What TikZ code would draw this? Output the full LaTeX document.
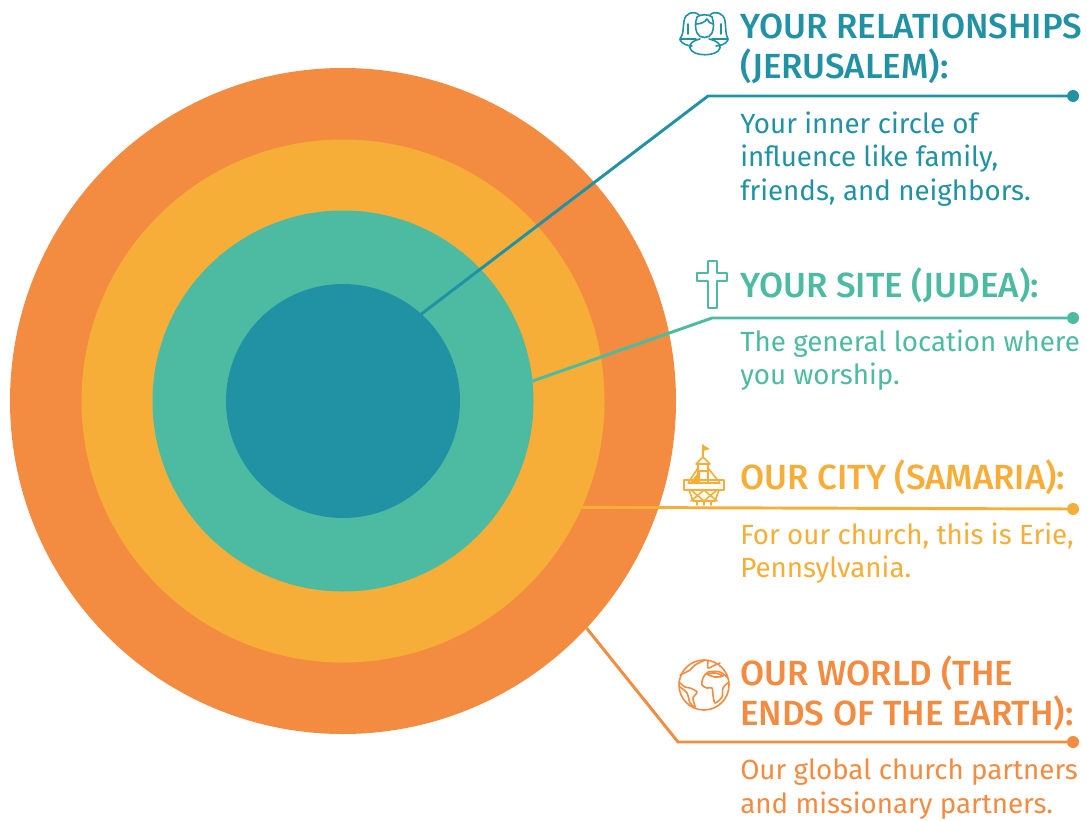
\documentclass[tikz,border=0pt]{standalone}
\usepackage{fontspec}
\setmainfont{Fira Sans}
\definecolor{kteal}{HTML}{2192A4}
\definecolor{kgreen}{HTML}{4CBBA2}
\definecolor{kyellow}{HTML}{F7AE38}
\definecolor{korange}{HTML}{F38B40}
\newfontfamily\headfont{Fira Sans Medium}
\tikzset{
  ring/.style={circle,inner sep=0pt,outer sep=0pt},
  head/.style={anchor=west,align=left,inner sep=0pt,font=\headfont\fontsize{26.2}{30}\selectfont},
  body/.style={anchor=west,align=left,inner sep=0pt,font=\fontsize{20.8}{25}\selectfont},
  pin/.style={circle,fill,inner sep=0pt,minimum size=9pt},
  lead/.style={line width=2.2pt},
  icon/.style={line width=1.2pt,line join=round,line cap=round}
}
\begin{document}
\begin{tikzpicture}[x=0.75pt,y=-0.75pt]
\useasboundingbox(0,0)rectangle(1087,820);
\foreach \kname/\kcol/\krad in {world/korange/333,city/kyellow/261.5,site/kgreen/190.5,core/kteal/117}{
  \node[ring,fill=\kcol,minimum size=2*\krad*0.75pt](\kname)at(343,401){};
}
% leaders
\node[pin,kteal](pina)at(1073,96){};
\node[pin,kgreen](pinb)at(1073,318){};
\node[pin,kyellow](pinc)at(1073,509){};
\node[pin,korange](pind)at(1073,742){};
\draw[lead,kteal](core.48.5)--(708,96)--(pina);
\draw[lead,kgreen](site.6.4)--(712,318)--(pinb);
\draw[lead,kyellow](city.336.1)--(pinc);
\draw[lead,korange](world.317.2)--(678,742)--(pind);
% headings
\node[head,kteal](heada)at(740,49){YOUR RELATIONSHIPS\\(JERUSALEM):};
\node[head,kgreen](headb)at(740,285){YOUR SITE (JUDEA):};
\node[head,kyellow](headc)at(740,477){OUR CITY (SAMARIA):};
\node[head,korange](headd)at(740,693){OUR WORLD (THE\\ENDS OF THE EARTH):};
% text
\node[body,kteal](bodya)at(740,159){Your inner circle of\\influence like family,\\friends, and neighbors.};
\node[body,kgreen](bodyb)at(740,360){The general location where\\you worship.};
\node[body,kyellow](bodyc)at(740,553){For our church, this is Erie,\\Pennsylvania.};
\node[body,korange](bodyd)at(740,789){Our global church partners\\and missionary partners.};
% people icon
\begin{scope}[icon,kteal]
\draw(680,39)..controls(684,34)and(683,26)..(684,21)..controls(685,13)and(694,10)..(699,15);
\draw(728,39)..controls(725,34)and(726,26)..(725,21)..controls(724,13)and(715,10)..(710,15);
\draw(680,39)--(696,39);\draw(712,39)--(728,39);
\draw(688,24)--(688,34);\draw(721,24)--(721,34);
\draw(697,17)..controls(700,14)and(709,14)..(712,17)..controls(714,23)and(714,28)..(712,33)..controls(710,39)and(699,39)..(697,33)..controls(695,28)and(695,23)..(697,17);
\draw(696,24)..controls(701,24)and(705,22)..(707,19)..controls(708,22)and(711,24)..(713,24);
\draw(680,40)..controls(682,44)and(688,46)..(692,46);
\draw(728,40)..controls(726,44)and(720,46)..(716,46);
\draw(700,39)..controls(692,41)and(689,44)..(690,48)..controls(692,57)and(718,57)..(720,48)..controls(721,44)and(717,41)..(709,39);
\end{scope}
% cross icon
\draw[icon,kgreen](708,261)--(717,261)--(717,273)--(727,273)--(727,281)--(717,281)--(717,308)--(708,308)--(708,281)--(697,281)--(697,273)--(708,273)--cycle;
% church icon
\begin{scope}[icon,kyellow]
\fill(703,445)--(710,449)--(703,451)--cycle;
\draw(703,445)--(703,457);
\fill(700,470)--(690,483)--(700,483)--cycle;
\draw(696,464)--(703,457)--(710,464)--cycle;
\draw(698,464)--(698,483);\draw(708,464)--(708,483);
\draw(698,471)--(708,471);
\draw(698,468)--(688,483)--(720,483)--(708,468);
\draw(684,480)--(684,490)--(724,490)--(724,480)--cycle;
\draw(689,490)--(693,501)--(715,501)--(719,490);
\draw(691,490)--(704,501)--(717,490);\draw(691,501)--(704,490)--(717,501);
\foreach \kx in {697,704,711}{\draw(\kx,501)--(\kx,505);}
\end{scope}
% globe icon
\begin{scope}[icon,korange]
\draw(704,685)circle[radius=25];
\draw plot[smooth]coordinates{(680,675)(690,670)(695,665)(705,660)};
\draw plot[smooth]coordinates{(708,661)(708,668)(715,665)(720,663)};
\draw plot[smooth]coordinates{(728,678)(720,672)(708,672)(703,678)(702,685)(707,688)(712,688)(713,695)(715,703)(722,697)(723,688)(729,682)};
\draw plot[smooth cycle]coordinates{(707,674)(715,673)(723,676)(715,677)};
\draw plot[smooth]coordinates{(679,682)(685,687)(690,688)(697,692)(693,698)(695,707)(690,703)(687,693)(680,687)};
\end{scope}
\end{tikzpicture}
\end{document}
